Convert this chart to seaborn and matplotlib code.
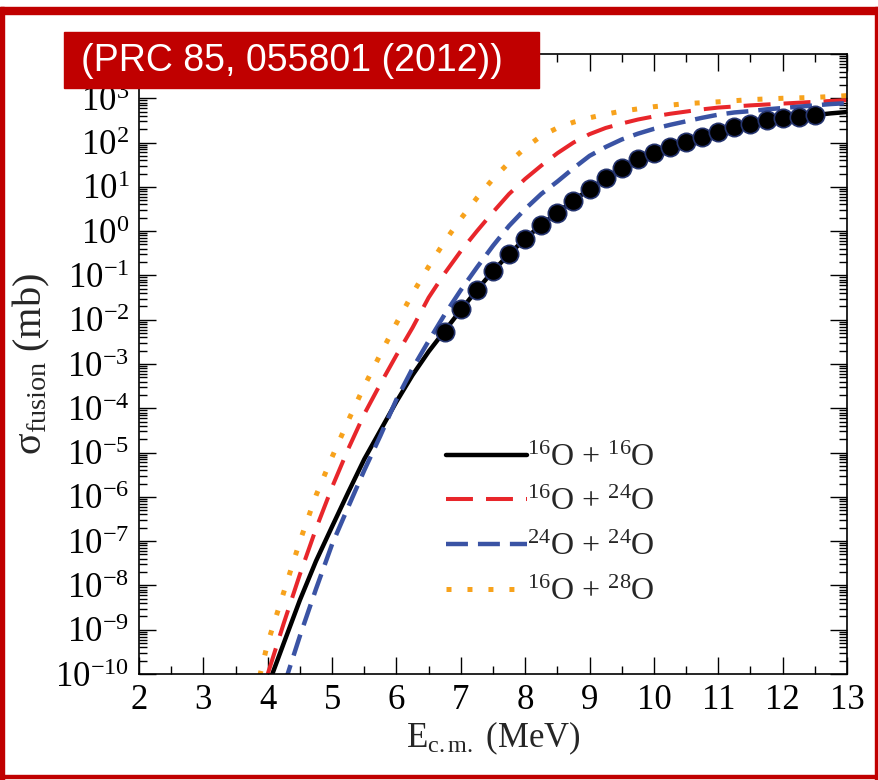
import numpy as np
import pandas as pd
import matplotlib
matplotlib.use("Agg")
import matplotlib.pyplot as plt
import seaborn as sns
from matplotlib.patches import Rectangle
from matplotlib.ticker import FixedLocator, LogLocator, FuncFormatter, MultipleLocator
from matplotlib.lines import Line2D

# ---------------- data (log10 of sigma in mb) ----------------
E_16_16 = [4.0, 4.25, 4.5, 4.75, 5.0, 5.25, 5.5, 5.75, 6.0, 6.25, 6.5, 6.75, 7.0, 7.25, 7.5,
           7.75, 8.0, 8.25, 8.5, 8.75, 9.0, 9.25, 9.5, 9.75, 10.0, 10.25, 10.5, 10.75, 11.0,
           11.25, 11.5, 11.75, 12.0, 12.25, 12.5, 12.75, 13.0]
logsig_16_16 = [-10.28, -9.3, -8.33, -7.45, -6.67, -5.9, -5.15, -4.5, -3.85, -3.25, -2.72, -2.25,
                -1.78, -1.33, -0.90, -0.52, -0.17, 0.14, 0.42, 0.69, 0.95, 1.19, 1.41, 1.60, 1.77,
                1.91, 2.03, 2.14, 2.24, 2.33, 2.41, 2.48, 2.53, 2.58, 2.62, 2.66, 2.69]

E_16_24 = [4.0, 4.25, 4.5, 4.75, 5.0, 5.25, 5.5, 5.75, 6.0, 6.25, 6.5, 6.75, 7.0, 7.25, 7.5,
           7.75, 8.0, 8.25, 8.5, 8.75, 9.0, 9.25, 9.5, 9.75, 10.0, 10.25, 10.5, 10.75, 11.0,
           11.5, 12.0, 12.5, 13.0]
logsig_16_24 = [-10.0, -8.85, -7.75, -6.72, -5.78, -4.92, -4.13, -3.45, -2.80, -2.18, -1.50,
                -0.95, -0.45, 0.0, 0.43, 0.84, 1.18, 1.48, 1.76, 2.00, 2.19, 2.33, 2.43, 2.52,
                2.59, 2.65, 2.70, 2.75, 2.79, 2.84, 2.88, 2.92, 2.96]

E_24_24 = [4.25, 4.5, 4.75, 5.0, 5.25, 5.5, 5.75, 6.0, 6.25, 6.5, 6.75, 7.0, 7.25, 7.5, 7.75,
           8.0, 8.25, 8.5, 8.75, 9.0, 9.25, 9.5, 9.75, 10.0, 10.25, 10.5, 10.75, 11.0, 11.25,
           11.5, 11.75, 12.0, 12.25, 12.5, 12.75, 13.0]
logsig_24_24 = [-10.27, -9.14, -8.08, -7.07, -6.23, -5.40, -4.62, -3.80, -3.10, -2.48, -1.88,
                -1.33, -0.82, -0.33, 0.12, 0.50, 0.84, 1.12, 1.42, 1.70, 1.90, 2.07, 2.20, 2.31,
                2.40, 2.48, 2.56, 2.63, 2.68, 2.71, 2.75, 2.78, 2.81, 2.84, 2.87, 2.89]

E_16_28 = [3.8, 4.0, 4.25, 4.5, 4.75, 5.0, 5.25, 5.5, 5.75, 6.0, 6.25, 6.5, 6.75, 7.0, 7.25,
           7.5, 7.75, 8.0, 8.25, 8.5, 8.75, 9.0, 9.25, 9.5, 9.75, 10.0, 10.5, 11.0, 11.5, 12.0,
           12.5, 13.0]
logsig_16_28 = [-10.5, -9.3, -8.15, -7.0, -5.97, -5.1, -4.28, -3.5, -2.78, -2.08, -1.41, -0.80,
                -0.23, 0.28, 0.75, 1.18, 1.55, 1.88, 2.15, 2.33, 2.46, 2.56, 2.64, 2.71, 2.76,
                2.81, 2.88, 2.92, 2.97, 3.00, 3.02, 3.06]

E_data = [6.75, 7.0, 7.25, 7.5, 7.75, 8.0, 8.25, 8.5, 8.75, 9.0, 9.25, 9.5, 9.75, 10.0, 10.25,
          10.5, 10.75, 11.0, 11.25, 11.5, 11.75, 12.0, 12.25, 12.5]
logsig_data = [-2.28, -1.76, -1.34, -0.90, -0.51, -0.17, 0.15, 0.40, 0.67, 0.96, 1.20, 1.42,
               1.62, 1.77, 1.91, 2.02, 2.13, 2.24, 2.35, 2.43, 2.50, 2.55, 2.58, 2.62]

labels = [r"$^{16}$O + $^{16}$O", r"$^{16}$O + $^{24}$O",
          r"$^{24}$O + $^{24}$O", r"$^{16}$O + $^{28}$O"]
colors = ["#000000", "#E8262B", "#3A53A4", "#F7A21C"]
xticks = list(range(2, 14))
ydecades = list(range(-10, 5))
ylabeled = list(range(-10, 4))

# ---------------- style ----------------
sns.set_theme(style="ticks")
plt.rcParams["font.family"] = ["Liberation Serif", "DejaVu Serif"]
plt.rcParams["mathtext.fontset"] = "custom"
plt.rcParams["mathtext.rm"] = "Liberation Serif"
plt.rcParams["mathtext.it"] = "Liberation Serif:italic"
plt.rcParams["mathtext.default"] = "regular"
plt.rcParams["lines.scale_dashes"] = False

fig = plt.figure(figsize=(8.79, 7.80), dpi=100)
fig.patch.set_facecolor("white")
W, H = 879.0, 780.0
ax = fig.add_axes([139 / W, 1 - 674 / H, 708 / W, 620 / H])
ax.set_yscale("log")

series = [(E_16_16, logsig_16_16), (E_16_24, logsig_16_24),
          (E_24_24, logsig_24_24), (E_16_28, logsig_16_28)]
styles = [dict(lw=3.2, linestyle="-"),
          dict(lw=2.9, linestyle=(0, (19.4, 9.4))),
          dict(lw=3.2, linestyle=(0, (15.8, 7.2))),
          dict(lw=3.6, linestyle=(0, (3.6, 11.5)))]

handles = []
for (E, ls), lab, c, st in zip(series, labels, colors, styles):
    df = pd.DataFrame({"E": E, "sigma": 10 ** np.array(ls)})
    sns.lineplot(data=df, x="E", y="sigma", ax=ax, color=c, legend=False, **st)
    handles.append(Line2D([], [], color=c, **st))

dfd = pd.DataFrame({"E": E_data, "sigma": 10 ** np.array(logsig_data)})
sns.scatterplot(data=dfd, x="E", y="sigma", ax=ax, color="black", s=175,
                edgecolor="#25346e", linewidth=1.2, zorder=5, legend=False)

ax.set_xlim(2, 13)
ax.set_ylim(1e-10, 1e4)
ax.xaxis.set_major_locator(FixedLocator(xticks))
ax.xaxis.set_minor_locator(MultipleLocator(0.5))
ax.yaxis.set_major_locator(FixedLocator([10.0 ** d for d in ydecades]))
ax.yaxis.set_minor_locator(LogLocator(base=10, subs=np.arange(2, 10), numticks=100))


def yfmt(v, _):
    d = int(round(np.log10(v)))
    return r"$10^{%d}$" % d if d in ylabeled else ""


ax.yaxis.set_major_formatter(FuncFormatter(yfmt))
ax.yaxis.set_minor_formatter(FuncFormatter(lambda v, _: ""))
ax.tick_params(which="both", direction="in", top=True, right=True, colors="black",
               width=1.0)
ax.tick_params(axis="x", labelsize=25)
ax.tick_params(axis="y", labelsize=25)
ax.tick_params(which="major", length=12, pad=7)
ax.tick_params(which="minor", length=5.5)
for sp in ax.spines.values():
    sp.set_linewidth(1.2)
    sp.set_color("black")

ax.set_xlabel(r"E$_{\rm c.m.}$ (MeV)", fontsize=25, labelpad=2)
ax.set_ylabel(r"$\sigma_{\rm fusion}$ (mb)", fontsize=29, labelpad=2)

ax.legend(handles, labels, loc="upper left", bbox_to_anchor=(0.433, 0.372),
          frameon=False, fontsize=23, handlelength=2.55, handletextpad=0.0,
          labelspacing=0.48, borderpad=0.0, borderaxespad=0.0)

# ---------------- frame and title box ----------------
red = "#C00000"
fig.add_artist(Rectangle((0, 1 - 14 / H), 1, 7 / H, transform=fig.transFigure,
                         color=red, zorder=20))
fig.add_artist(Rectangle((0, 0), 4 / W, 1 - 7 / H, transform=fig.transFigure,
                         color=red, zorder=20))
fig.add_artist(Rectangle((1 - 4 / W, 0), 4 / W, 1 - 7 / H, transform=fig.transFigure,
                         color=red, zorder=20))
fig.add_artist(Rectangle((0, 2 / H), 1, 3 / H, transform=fig.transFigure,
                         color=red, zorder=20))
fig.add_artist(Rectangle((64 / W, 1 - 88 / H), (539 - 64) / W, 56 / H,
                         transform=fig.transFigure, color=red, zorder=20))
fig.text(81 / W, 1 - 61 / H, "(PRC 85, 055801 (2012))", color="white", fontsize=27,
         family=["Liberation Sans", "DejaVu Sans"], va="center", ha="left", zorder=21)

fig.savefig("out.png", dpi=100, facecolor="white")
